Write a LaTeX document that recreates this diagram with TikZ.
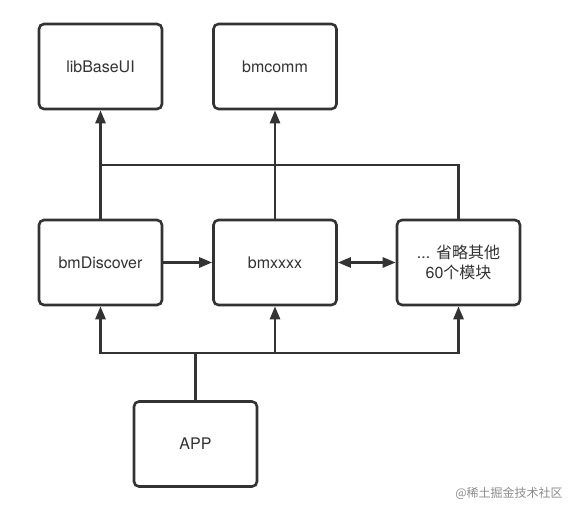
\documentclass[tikz,border=0pt]{standalone}
\usepackage{fontspec}
\setmainfont{TeX Gyre Heros}
\newfontfamily\cjk{Noto Sans CJK SC}
\usetikzlibrary{arrows.meta, positioning}
\definecolor{ink}{HTML}{333333}

\begin{document}
\begin{tikzpicture}[
    x=1pt, y=-1pt,
    font=\fontsize{16}{20}\selectfont,
    module/.style={draw=ink, line width=2.6pt, rounded corners=5pt, minimum width=123pt, minimum height=85pt, align=center, text=ink},
    link/.style={draw=ink, line width=2.6pt},
    arrow/.style={link, -{Triangle[length=13pt, width=10pt]}},
    biarrow/.style={link, {Triangle[length=13pt, width=10pt]}-{Triangle[length=13pt, width=10pt]}},
]
\useasboundingbox (0,0) rectangle (577,513);
\fill[white] (0,0) rectangle (577,513);

% Base libraries (top row)
\node[module] (libBaseUI) at (100.5,66.5) {libBaseUI};
\node[module] (bmcomm)    at (275,66.5)   {bmcomm};
% Business modules (middle row)
\node[module] (bmDiscover) at (100.5,262.5) {bmDiscover};
\node[module] (bmxxxx)     at (275,262.5)   {bmxxxx};
\node[module] (others)     at (458.5,262.5) {... {\cjk 省略其他}\\60{\cjk 个模块}};
% Shell app
\node[module] (app) at (195.5,444) {APP};

% Bus junctions
\coordinate (topbus) at (100.5,165);
\coordinate (lowbus) at (195.5,353);

% Upward dependencies
\draw[arrow] (bmDiscover) -- (libBaseUI);
\draw[arrow] (bmxxxx) -- (bmcomm);
\draw[link] (others.north) |- (topbus);

% Sideways dependencies
\draw[arrow] (bmDiscover) -- (bmxxxx);
\draw[biarrow] (bmxxxx) -- (others);

% APP links
\draw[link] (app.north) -- (lowbus);
\foreach \m in {bmDiscover,bmxxxx,others} \draw[arrow] (lowbus) -| (\m.south);

% Watermark
\node[text=black!45, font=\cjk\fontsize{12}{14}\selectfont] (mark) at (509,493) {@稀土掘金技术社区};
\end{tikzpicture}
\end{document}
